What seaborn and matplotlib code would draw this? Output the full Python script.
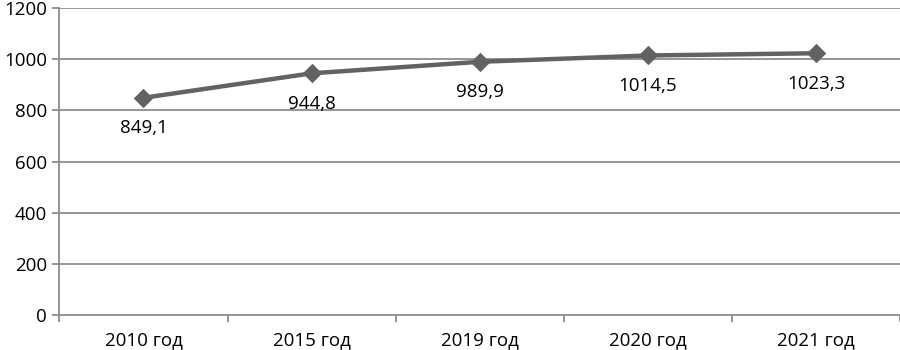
import matplotlib
matplotlib.use("Agg")
import matplotlib.pyplot as plt
import seaborn as sns
import pandas as pd
import numpy as np

categories = ["2010 год", "2015 год", "2019 год", "2020 год", "2021 год"]
values = [849.1, 944.8, 989.9, 1014.5, 1023.3]
value_labels = ["849,1", "944,8", "989,9", "1014,5", "1023,3"]
y_ticks = [0, 200, 400, 600, 800, 1000, 1200]

sns.set_theme(style="white")
plt.rcParams['font.family'] = ['Open Sans', 'DejaVu Sans']

df = pd.DataFrame({"cat": categories, "val": values})

fig = plt.figure(figsize=(9, 3.5), dpi=100)
ax = fig.add_axes([0.066, 0.1, 0.934, 0.877])

sns.lineplot(data=df, x="cat", y="val", ax=ax, color="#626262", linewidth=3.2,
             marker="D", markersize=9, markeredgecolor="#626262", sort=False)

fs = 13.5
ax.set_ylim(0, 1200)
ax.set_xlim(-0.5, len(categories) - 0.5)
ax.set_yticks(y_ticks)
ax.set_yticklabels([str(t) for t in y_ticks], fontsize=fs, color="black")
ax.set_xticks(range(len(categories)))
ax.set_xticklabels(categories, fontsize=fs, color="black")
ax.set_xlabel("")
ax.set_ylabel("")

for t in y_ticks[1:]:
    ax.axhline(t, color="#8c8c8c", linewidth=1.3, zorder=0)

for i, (v, lab) in enumerate(zip(values, value_labels)):
    ax.annotate(lab, (i, v), xytext=(0, -22), textcoords="offset points",
                ha="center", va="center", fontsize=fs, color="black")

for s in ["top", "right"]:
    ax.spines[s].set_visible(False)
for s in ["left", "bottom"]:
    ax.spines[s].set_color("#8c8c8c")
    ax.spines[s].set_linewidth(1.3)

ax.tick_params(axis="y", which="major", left=True, length=5, color="#8c8c8c", width=1.3, pad=4)
ax.tick_params(axis="x", which="major", bottom=False, pad=6)
ax.set_xticks(np.arange(-0.5, len(categories), 1.0), minor=True)
ax.tick_params(axis="x", which="minor", bottom=True, length=5, color="#8c8c8c", width=1.3)

fig.savefig("out.png", dpi=100)
